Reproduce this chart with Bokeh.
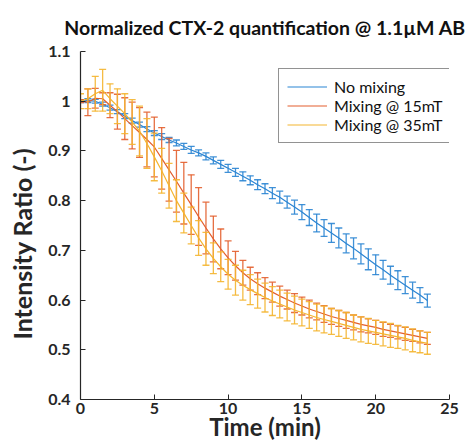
from bokeh.plotting import figure
from bokeh.models import Range1d, FixedTicker, Legend, LegendItem, ColumnDataSource
from bokeh.embed import file_html
from bokeh.resources import INLINE

# ---------------- data ----------------
time_min = [i * 0.5 for i in range(48)]

no_mixing = [1.000, 1.001, 1.000, 0.994, 0.987, 0.979, 0.970, 0.961, 0.953, 0.944,
             0.936, 0.929, 0.922, 0.916, 0.909, 0.902, 0.896, 0.889, 0.881, 0.873,
             0.865, 0.857, 0.849, 0.841, 0.832, 0.824, 0.815, 0.807, 0.797, 0.787,
             0.777, 0.766, 0.755, 0.745, 0.735, 0.725, 0.714, 0.704, 0.693, 0.682,
             0.671, 0.661, 0.650, 0.640, 0.630, 0.620, 0.610, 0.599]
no_mixing_err = [0.003, 0.004, 0.004, 0.004, 0.005, 0.004, 0.005, 0.005, 0.005, 0.005,
                 0.005, 0.006, 0.005, 0.006, 0.006, 0.007, 0.006, 0.007, 0.007, 0.008,
                 0.008, 0.008, 0.009, 0.009, 0.010, 0.010, 0.011, 0.012, 0.012, 0.014,
                 0.015, 0.016, 0.018, 0.017, 0.019, 0.020, 0.019, 0.021, 0.020, 0.021,
                 0.020, 0.019, 0.018, 0.019, 0.017, 0.016, 0.015, 0.013]

mix_15mT = [1.000, 0.998, 1.006, 1.005, 0.992, 0.979, 0.965, 0.951, 0.937, 0.923,
            0.908, 0.885, 0.862, 0.839, 0.815, 0.792, 0.768, 0.745, 0.723, 0.703,
            0.685, 0.669, 0.655, 0.643, 0.633, 0.624, 0.616, 0.608, 0.601, 0.594,
            0.588, 0.582, 0.577, 0.572, 0.567, 0.563, 0.559, 0.555, 0.551, 0.548,
            0.545, 0.541, 0.538, 0.535, 0.532, 0.529, 0.526, 0.523]
mix_15mT_err = [0.003, 0.027, 0.020, 0.012, 0.025, 0.035, 0.042, 0.047, 0.050, 0.055,
                0.060, 0.062, 0.063, 0.062, 0.062, 0.060, 0.058, 0.052, 0.046, 0.040,
                0.034, 0.029, 0.025, 0.023, 0.022, 0.021, 0.020, 0.020, 0.019, 0.019,
                0.018, 0.018, 0.017, 0.017, 0.016, 0.016, 0.016, 0.015, 0.015, 0.014,
                0.014, 0.014, 0.013, 0.013, 0.013, 0.012, 0.012, 0.012]

mix_35mT = [1.000, 1.005, 1.015, 1.022, 1.005, 0.990, 0.975, 0.958, 0.940, 0.915,
            0.888, 0.860, 0.830, 0.800, 0.775, 0.750, 0.725, 0.703, 0.684, 0.667,
            0.652, 0.640, 0.630, 0.621, 0.613, 0.605, 0.598, 0.592, 0.586, 0.580,
            0.575, 0.570, 0.565, 0.561, 0.557, 0.553, 0.549, 0.545, 0.541, 0.538,
            0.535, 0.532, 0.529, 0.526, 0.523, 0.519, 0.516, 0.513]
mix_35mT_err = [0.015, 0.020, 0.035, 0.042, 0.030, 0.035, 0.040, 0.045, 0.050, 0.050,
                0.048, 0.045, 0.045, 0.042, 0.040, 0.037, 0.035, 0.033, 0.031, 0.030,
                0.030, 0.030, 0.030, 0.030, 0.029, 0.029, 0.029, 0.028, 0.028, 0.028,
                0.027, 0.027, 0.027, 0.027, 0.026, 0.026, 0.026, 0.025, 0.025, 0.025,
                0.024, 0.024, 0.024, 0.023, 0.023, 0.023, 0.022, 0.022]

series_names = ["No mixing", "Mixing @ 15mT", "Mixing @ 35mT"]
series_colors = ["#2B85D3", "#E35F2E", "#F4B530"]

y_ticks = [0.4, 0.5, 0.6, 0.7, 0.8, 0.9, 1.0, 1.1]
y_tick_labels = ["0.4", "0.5", "0.6", "0.7", "0.8", "0.9", "1", "1.1"]
x_ticks = [0, 5, 10, 15, 20, 25]

title_text = "Normalized CTX-2 quantification @ 1.1\u00b5M AB"
x_label = "Time (min)"
y_label = "Intensity Ratio (-)" + "\u00a0" * 6

# ---------------- figure ----------------
FONT = "Lato"
TXT = "#262626"

p = figure(width=469, height=444, output_backend="svg", toolbar_location=None,
           x_range=Range1d(0, 25), y_range=Range1d(0.4, 1.1),
           min_border_left=80, min_border_right=20, min_border_top=51, min_border_bottom=45,
           title=title_text)
p.outline_line_color = None
p.xgrid.visible = False
p.ygrid.visible = False
p.background_fill_color = "white"
p.border_fill_color = "white"

p.title.align = "center"
p.title.text_font = FONT
p.title.text_font_style = "bold"
p.title.text_font_size = "19.5px"
p.title.text_color = "#111111"
p.title.standoff = 26

for ax in (p.xaxis[0], p.yaxis[0]):
    ax.axis_line_color = TXT
    ax.axis_line_width = 1.2
    ax.major_tick_line_color = TXT
    ax.major_tick_in = 5
    ax.major_tick_out = 0
    ax.minor_tick_line_color = None
    ax.major_label_text_font = FONT
    ax.major_label_text_font_style = "bold"
    ax.major_label_text_font_size = "16px"
    ax.major_label_text_color = TXT
    ax.axis_label_text_font = FONT
    ax.axis_label_text_font_style = "bold"
    ax.axis_label_text_color = TXT

p.xaxis.axis_label_text_font_size = "24px"
p.yaxis.axis_label_text_font_size = "25px"
p.xaxis.axis_label = x_label
p.yaxis.axis_label = y_label
p.xaxis.ticker = FixedTicker(ticks=x_ticks)
p.yaxis.ticker = FixedTicker(ticks=y_ticks)
p.yaxis.major_label_overrides = {t: l for t, l in zip(y_ticks, y_tick_labels)}
p.yaxis.major_label_standoff = 10
p.yaxis.axis_label_standoff = 8
p.xaxis.major_label_standoff = 3
p.xaxis.axis_label_standoff = -5

items = []
all_series = [(no_mixing, no_mixing_err), (mix_15mT, mix_15mT_err), (mix_35mT, mix_35mT_err)]
for (vals, errs), name, col in zip(all_series, series_names, series_colors):
    lo = [v - e for v, e in zip(vals, errs)]
    hi = [v + e for v, e in zip(vals, errs)]
    src = ColumnDataSource(dict(t=time_min, v=vals, lo=lo, hi=hi))
    ln = p.line("t", "v", source=src, line_color=col, line_width=1.2)
    p.segment(x0="t", y0="lo", x1="t", y1="hi", source=src, line_color=col, line_width=1.3, line_alpha=0.9)
    p.scatter("t", "lo", source=src, marker="dash", size=7, line_color=col, line_width=1.3, line_alpha=0.9)
    p.scatter("t", "hi", source=src, marker="dash", size=7, line_color=col, line_width=1.3, line_alpha=0.9)
    items.append(LegendItem(label=name, renderers=[ln]))

legend = Legend(items=items, location=(198, 256))
legend.border_line_color = TXT
legend.border_line_width = 1.3
legend.background_fill_color = "white"
legend.background_fill_alpha = 1.0
legend.label_text_font = FONT
legend.label_text_font_size = "16px"
legend.label_text_color = "#111111"
legend.glyph_width = 40
legend.glyph_height = 17
legend.label_height = 17
legend.label_standoff = 7
legend.spacing = 0
legend.padding = 8
legend.margin = 0
p.add_layout(legend)

open("out.html", "w").write(file_html(p, INLINE))
